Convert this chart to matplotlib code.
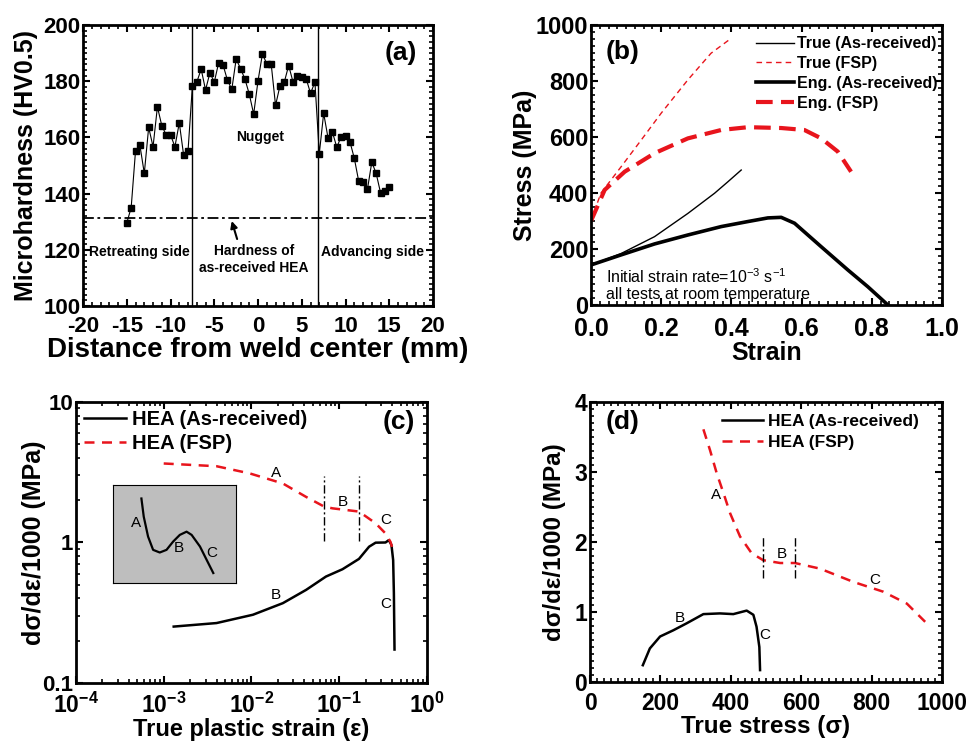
import math
import matplotlib
matplotlib.use("Agg")
import matplotlib.pyplot as plt
from matplotlib.ticker import MultipleLocator, FuncFormatter, LogLocator, NullFormatter

plt.rcParams['font.family'] = ['Liberation Sans', 'DejaVu Sans']
plt.rcParams['font.weight'] = 'bold'
plt.rcParams['axes.labelweight'] = 'bold'
plt.rcParams['axes.unicode_minus'] = False
plt.rcParams['mathtext.fontset'] = 'custom'
plt.rcParams['mathtext.rm'] = 'Liberation Sans'
plt.rcParams['mathtext.bf'] = 'Liberation Sans:bold'
plt.rcParams['mathtext.default'] = 'regular'

# (a) microhardness profile
dist_mm = [-15.0, -14.5, -14.0, -13.5, -13.0, -12.5, -12.0, -11.5, -11.0, -10.5, -10.0,
           -9.5, -9.0, -8.5, -8.0, -7.5, -7.0, -6.5, -6.0, -5.5, -5.0, -4.5, -4.0, -3.5,
           -3.0, -2.5, -2.0, -1.5, -1.0, -0.5, 0.0, 0.5, 1.0, 1.5, 2.0, 2.5, 3.0, 3.5, 4.0,
           4.5, 5.0, 5.5, 6.0, 6.5, 7.0, 7.5, 8.0, 8.5, 9.0, 9.5, 10.0, 10.5, 11.0, 11.5,
           12.0, 12.5, 13.0, 13.5, 14.0, 14.5, 15.0]
hardness = [129.6, 135.0, 155.3, 157.2, 147.2, 163.6, 156.7, 170.9, 164.2, 160.9, 160.9,
            156.7, 165.2, 153.6, 155.3, 178.4, 179.7, 184.3, 176.9, 183.0, 179.7, 186.6,
            185.8, 180.4, 177.1, 187.9, 184.5, 180.8, 175.4, 168.3, 180.2, 189.7, 186.2,
            186.2, 171.4, 178.3, 179.7, 185.6, 179.7, 181.7, 181.5, 180.9, 175.7, 179.7,
            154.2, 168.6, 159.8, 161.9, 156.5, 160.3, 160.5, 158.5, 152.6, 144.5, 144.0,
            141.5, 151.2, 147.2, 140.3, 141.0, 142.5]
hv_base = 131.2
nugget_edges = [-7.6, 6.9]

# (b) stress-strain curves
true_ar_x = [0.0, 0.086, 0.181, 0.276, 0.352, 0.39, 0.428]
true_ar_y = [143, 184, 244, 327, 399, 440, 482]
true_fsp_x = [0.0, 0.028, 0.086, 0.143, 0.2, 0.276, 0.342, 0.399]
true_fsp_y = [300, 399, 494, 589, 685, 804, 899, 952]
eng_ar_x = [0.0, 0.086, 0.181, 0.276, 0.371, 0.447, 0.504, 0.542, 0.58, 0.656, 0.732, 0.789, 0.846]
eng_ar_y = [143, 179, 218, 250, 280, 298, 311, 313, 292, 208, 125, 65, 0]
eng_fsp_x = [0.0, 0.039, 0.096, 0.181, 0.276, 0.371, 0.447, 0.542, 0.608, 0.656, 0.703, 0.741]
eng_fsp_y = [300, 411, 476, 542, 595, 625, 635, 632, 625, 595, 548, 476]

# (c) hardening rate vs true plastic strain
c_ar_x = [1.3e-3, 4.0e-3, 0.0104, 0.0228, 0.042, 0.0706, 0.109, 0.168, 0.219, 0.26,
          0.337, 0.368, 0.394, 0.412, 0.42, 0.427]
c_ar_y = [0.252, 0.267, 0.306, 0.37, 0.46, 0.572, 0.645, 0.764, 0.933, 0.997,
          1.0, 1.04, 0.96, 0.75, 0.436, 0.173]
c_fsp_x = [1e-3, 4e-3, 0.0096, 0.0228, 0.042, 0.0675, 0.084, 0.168, 0.26, 0.337, 0.384, 0.40]
c_fsp_y = [3.65, 3.49, 3.1, 2.63, 2.11, 1.8, 1.75, 1.66, 1.37, 1.16, 1.01, 0.93]
c_stage_x = [0.0675, 0.166]

# inset sketch of the three stages
sketch_x = [0.231, 0.25, 0.285, 0.326, 0.38, 0.435, 0.489, 0.543, 0.598, 0.639, 0.707, 0.761, 0.815]
sketch_y = [0.864, 0.678, 0.475, 0.339, 0.312, 0.339, 0.424, 0.492, 0.525, 0.492, 0.373, 0.237, 0.102]

# (d) hardening rate vs true stress
d_ar_x = [150, 170, 199, 237, 275, 322, 369, 407, 445, 464, 473, 481, 483]
d_ar_y = [0.24, 0.48, 0.65, 0.74, 0.84, 0.97, 0.98, 0.97, 1.02, 0.96, 0.79, 0.50, 0.17]
d_fsp_x = [322, 341, 360, 379, 398, 426, 459, 492, 540, 582, 653, 748, 833, 900, 952]
d_fsp_y = [3.61, 3.31, 2.98, 2.70, 2.41, 2.08, 1.84, 1.74, 1.70, 1.70, 1.62, 1.43, 1.29, 1.12, 0.86]
d_stage_x = [492, 582]

red = '#e8141c'
fig = plt.figure(figsize=(9.69, 7.41), dpi=100)


def style(ax, tick_size=16):
    for s in ax.spines.values():
        s.set_linewidth(2)
    ax.tick_params(which='both', direction='in', top=True, right=True, labelsize=tick_size, pad=2)
    ax.tick_params(axis='x', which='both', pad=7)
    ax.tick_params(which='major', length=5, width=1.5)
    ax.tick_params(which='minor', length=3, width=1.2)


# ---- (a)
ax = fig.add_axes([0.0857, 0.587, 0.3612, 0.3792])
ax.plot(dist_mm, hardness, '-s', color='black', lw=0.8, ms=5)
ax.axhline(hv_base, color='black', lw=1.3, ls=(0, (6, 2, 1.5, 2)))
for e in nugget_edges:
    ax.axvline(e, color='black', lw=1)
ax.set_xlim(-20, 20)
ax.set_ylim(100, 200)
ax.xaxis.set_major_locator(MultipleLocator(5))
ax.xaxis.set_minor_locator(MultipleLocator(1))
ax.yaxis.set_major_locator(MultipleLocator(20))
ax.yaxis.set_minor_locator(MultipleLocator(2))
style(ax, 16)
ax.set_xlabel('Distance from weld center (mm)', fontsize=20, labelpad=0)
ax.set_ylabel('Microhardness (HV0.5)', fontsize=18, labelpad=4)
ax.text(0.953, 0.899, '(a)', transform=ax.transAxes, ha='right', va='center', fontsize=19)
ax.text(0.2, 160.3, 'Nugget', ha='center', va='center', fontsize=10)
ax.text(-13.6, 119.3, 'Retreating side', ha='center', va='center', fontsize=10)
ax.text(13.1, 119.3, 'Advancing side', ha='center', va='center', fontsize=10)
ax.text(-0.5, 116.5, 'Hardness of\nas-received HEA', ha='center', va='center', fontsize=10,
        linespacing=1.3)
ax.annotate('', xy=(-3.1, hv_base), xytext=(-2.3, 122.9),
            arrowprops=dict(arrowstyle='-|>', color='black', lw=1.5, mutation_scale=10))

# ---- (b)
ax = fig.add_axes([0.6099, 0.5884, 0.3622, 0.3779])
ax.plot(true_ar_x, true_ar_y, color='black', lw=1, label='True (As-received)')
ax.plot(true_fsp_x, true_fsp_y, color=red, lw=1, ls=(0, (4, 3)), label='True (FSP)')
ax.plot(eng_ar_x, eng_ar_y, color='black', lw=2.6, label='Eng. (As-received)')
ax.plot(eng_fsp_x, eng_fsp_y, color=red, lw=3, ls=(0, (4, 2)), label='Eng. (FSP)')
ax.set_xlim(0, 1)
ax.set_ylim(0, 1000)
ax.xaxis.set_major_locator(MultipleLocator(0.2))
ax.xaxis.set_minor_locator(MultipleLocator(0.025))
ax.yaxis.set_major_locator(MultipleLocator(200))
ax.yaxis.set_minor_locator(MultipleLocator(25))
style(ax, 17)
ax.tick_params(axis='x', labelsize=18, pad=9)
ax.set_xlabel('Strain', fontsize=18, labelpad=0)
ax.set_ylabel('Stress (MPa)', fontsize=18, labelpad=-1)
ax.text(0.043, 0.905, '(b)', transform=ax.transAxes, ha='left', va='center', fontsize=19)
ax.text(0.043, 101, 'Initial strain rate=10$^{-3}$ s$^{-1}$', ha='left', va='center',
        fontsize=11.5, fontweight='normal')
ax.text(0.043, 36, 'all tests at room temperature', ha='left', va='center',
        fontsize=11.5, fontweight='normal')
ax.legend(loc='upper right', bbox_to_anchor=(1.02, 1.0), frameon=False, fontsize=11.5,
          handlelength=2.4, handletextpad=0.2, labelspacing=0.3, borderaxespad=0.3)

# ---- (c)
ax = fig.add_axes([0.0784, 0.0783, 0.3622, 0.3792])
ax.plot(c_ar_x, c_ar_y, color='black', lw=1.8, label='HEA (As-received)')
ax.plot(c_fsp_x, c_fsp_y, color=red, lw=1.8, ls=(0, (4, 3)), label='HEA (FSP)')
for xs in c_stage_x:
    ax.plot([xs, xs], [1.02, 2.95], color='black', lw=1, ls=(0, (6, 2, 1.5, 2)))
ax.set_xscale('log')
ax.set_yscale('log')
ax.set_xlim(1e-4, 1)
ax.set_ylim(0.1, 10)
ax.xaxis.set_major_locator(LogLocator(base=10, numticks=10))
ax.xaxis.set_minor_locator(LogLocator(base=10, subs=range(2, 10), numticks=10))
ax.xaxis.set_minor_formatter(NullFormatter())
ax.xaxis.set_major_formatter(FuncFormatter(lambda v, p: r'$\mathbf{10^{%d}}$' % round(math.log10(v))))
ax.yaxis.set_major_formatter(FuncFormatter(lambda v, p: '%g' % v))
ax.yaxis.set_minor_formatter(NullFormatter())
style(ax, 16)
ax.tick_params(axis='x', labelsize=16.5, pad=7)
ax.set_xlabel('True plastic strain (ε)', fontsize=17, labelpad=0)
ax.set_ylabel('dσ/dε/1000 (MPa)', fontsize=18, labelpad=-3)
ax.text(0.965, 0.929, '(c)', transform=ax.transAxes, ha='right', va='center', fontsize=19)
for lx, ly, lt in [(0.019, 3.1, 'A'), (0.109, 1.95, 'B'), (0.337, 1.44, 'C'),
                   (0.019, 0.424, 'B'), (0.337, 0.364, 'C')]:
    ax.text(lx, ly, lt, ha='center', va='center', fontsize=11, fontweight='normal')
ax.legend(loc='upper left', bbox_to_anchor=(0.0, 1.0), frameon=False, fontsize=14.5,
          handlelength=2.1, handletextpad=0.3, labelspacing=0.25, borderaxespad=0.2,
          borderpad=0.2)

inset = fig.add_axes([0.1166, 0.2132, 0.127, 0.132])
inset.set_facecolor('#bebebe')
inset.plot(sketch_x, sketch_y, color='black', lw=1.6)
inset.set_xlim(0, 1)
inset.set_ylim(0, 1)
inset.set_xticks([])
inset.set_yticks([])
for s in inset.spines.values():
    s.set_linewidth(0.8)
for lx, ly, lt in [(0.19, 0.61, 'A'), (0.535, 0.36, 'B'), (0.80, 0.31, 'C')]:
    inset.text(lx, ly, lt, ha='center', va='center', fontsize=11, fontweight='normal')

# ---- (d)
ax = fig.add_axes([0.6089, 0.0796, 0.3633, 0.3779])
ax.plot(d_ar_x, d_ar_y, color='black', lw=1.8, label='HEA (As-received)')
ax.plot(d_fsp_x, d_fsp_y, color=red, lw=1.8, ls=(0, (4, 3)), label='HEA (FSP)')
for xs in d_stage_x:
    ax.plot([xs, xs], [1.48, 2.08], color='black', lw=1, ls=(0, (6, 2, 1.5, 2)))
ax.set_xlim(0, 1000)
ax.set_ylim(0, 4)
ax.xaxis.set_major_locator(MultipleLocator(200))
ax.xaxis.set_minor_locator(MultipleLocator(20))
ax.yaxis.set_major_locator(MultipleLocator(1))
ax.yaxis.set_minor_locator(MultipleLocator(0.1))
style(ax, 16.5)
ax.set_xlabel('True stress (σ)', fontsize=17.5, labelpad=0)
ax.set_ylabel('dσ/dε/1000 (MPa)', fontsize=17.5, labelpad=6)
ax.text(0.043, 0.929, '(d)', transform=ax.transAxes, ha='left', va='center', fontsize=19)
for lx, ly, lt in [(358, 2.67, 'A'), (545, 1.83, 'B'), (810, 1.46, 'C'),
                   (256, 0.91, 'B'), (497, 0.67, 'C')]:
    ax.text(lx, ly, lt, ha='center', va='center', fontsize=11, fontweight='normal')
ax.legend(loc='upper right', bbox_to_anchor=(0.97, 1.0), frameon=False, fontsize=12.5,
          handlelength=2.4, handletextpad=0.3, labelspacing=0.3, borderaxespad=0.3)

fig.savefig('out.png', dpi=100)
